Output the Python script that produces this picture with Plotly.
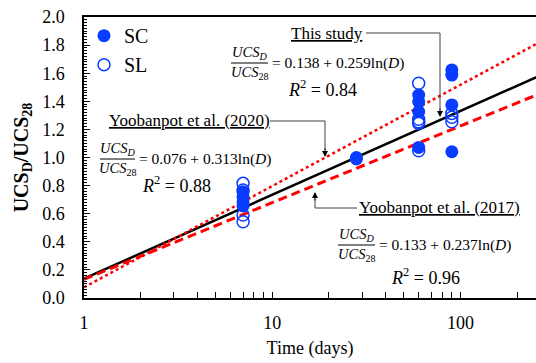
import plotly.graph_objects as go
import numpy as np

# ---------------- data ----------------
sc_days = [7, 7, 7, 7, 28, 28, 60, 60, 60, 60, 90, 90, 90, 90]
sc_vals = [0.757, 0.721, 0.685, 0.655, 1.00, 0.99, 1.445, 1.397, 1.326, 1.072, 1.623, 1.587, 1.374, 1.041]
sl_days = [7, 7, 7, 7, 60, 60, 60, 60, 60, 90, 90, 90]
sl_vals = [0.816, 0.769, 0.591, 0.543, 1.528, 1.272, 1.255, 1.243, 1.048, 1.314, 1.286, 1.255]

# fitted relations printed on the chart: a + b ln(D)
fit_names = ["This study", "Yoobanpot et al. (2020)", "Yoobanpot et al. (2017)"]
fit_a = [0.138, 0.076, 0.133]
fit_b = [0.259, 0.313, 0.237]
fit_r2 = [0.84, 0.88, 0.96]
fit_days = [1, 260]

y_ticks = [0.0, 0.2, 0.4, 0.6, 0.8, 1.0, 1.2, 1.4, 1.6, 1.8, 2.0]
x_ticks = [1, 10, 100]
x_minor = [2, 3, 4, 5, 6, 7, 8, 9, 20, 30, 40, 50, 60, 70, 80, 90, 200]

# ---------------- layout constants ----------------
W, H = 536, 363
L, T, R, B = 84, 17, 536, 298          # plot area in window pixels
SERIF = "Liberation Serif, Times New Roman, serif"
BLUE = "#0a3cff"
RED = "#ff0000"


def px(x):
    return (x - L) / (R - L)


def py(y):
    return (B - y) / (B - T)


fig = go.Figure()

styles = [dict(color="black", width=2.5, dash="solid"),
          dict(color=RED, width=2.5, dash="dot"),
          dict(color=RED, width=3, dash="9px,5px")]
for name, a, b, st in zip(fit_names, fit_a, fit_b, styles):
    d = np.array(fit_days, dtype=float)
    fig.add_trace(go.Scatter(x=d, y=a + b * np.log(d), mode="lines", line=st,
                             showlegend=False, name=name, hoverinfo="skip"))

fig.add_trace(go.Scatter(x=sc_days, y=sc_vals, mode="markers", name="SC",
                         marker=dict(symbol="circle", size=13, color=BLUE,
                                     line=dict(width=0))))
fig.add_trace(go.Scatter(x=sl_days, y=sl_vals, mode="markers", name="SL",
                         marker=dict(symbol="circle-open", size=12, color=BLUE,
                                     line=dict(width=1.5, color=BLUE))))

annotations = []
shapes = []


def text(x, y, s, size=15, xanchor="center", family=SERIF, under=False):
    annotations.append(dict(x=px(x), y=py(y), xref="paper", yref="paper", text=s,
                            showarrow=False, xanchor=xanchor, yanchor="middle",
                            font=dict(family=family, size=size, color="black",
                                      lineposition="under" if under else "none")))


def equation(xb0, xb1, yb, rhs, r2x, r2y, r2):
    xm = (xb0 + xb1) / 2
    text(xm, yb - 10, "<i>UCS</i><sub><i>D</i></sub>", size=14.5)
    text(xm, yb + 10, "<i>UCS</i><sub>28</sub>", size=14.5)
    shapes.append(dict(type="line", xref="paper", yref="paper", x0=px(xb0), x1=px(xb1),
                       y0=py(yb), y1=py(yb), line=dict(color="black", width=1)))
    text(xb1 + 2, yb, rhs, size=15.5, xanchor="left")
    text(r2x, r2y, "<i>R</i><sup>2</sup> = " + r2, size=18, xanchor="left")


def leader(points, tip, up=False):
    path = "M " + " L ".join(f"{px(x)},{py(y)}" for x, y in points)
    shapes.append(dict(type="path", xref="paper", yref="paper", path=path,
                       line=dict(color="#404040", width=1)))
    annotations.append(dict(x=px(tip[0]), y=py(tip[1]), xref="paper", yref="paper",
                            text="", showarrow=True, arrowhead=2, arrowsize=1.2,
                            arrowwidth=1, arrowcolor="black",
                            ax=0, ay=(10 if up else -10)))


# This study
text(327, 33, fit_names[0], size=17, under=True)
leader([(366, 33), (440, 33), (440, 110)], (440, 117))
equation(231, 268, 63, f"= {fit_a[0]:.3f} + {fit_b[0]:.3f}ln(<i>D</i>)", 286, 89, f"{fit_r2[0]:.2f}")

# 2020
text(189, 120, fit_names[1], size=17, under=True)
leader([(270, 121), (325, 121), (325, 150)], (325, 157))
equation(100, 135, 159, f"= {fit_a[1]:.3f} + {fit_b[1]:.3f}ln(<i>D</i>)", 140, 184, f"{fit_r2[1]:.2f}")

# 2017
text(439, 208, fit_names[2], size=17, under=True)
leader([(357, 208), (315, 208), (315, 199)], (315, 192), up=True)
equation(338, 375, 245, f"= {fit_a[2]:.3f} + {fit_b[2]:.3f}ln(<i>D</i>)", 389, 276, f"{fit_r2[2]:.2f}")

fig.update_layout(
    width=W, height=H,
    margin=dict(l=L, r=W - R, t=T, b=H - B, autoexpand=False),
    paper_bgcolor="white", plot_bgcolor="white",
    font=dict(family=SERIF, size=18, color="black"),
    showlegend=True,
    legend=dict(x=0.0, y=1.003, xanchor="left", yanchor="top",
                font=dict(family=SERIF, size=20, color="black"),
                bgcolor="rgba(0,0,0,0)", itemwidth=30, tracegroupgap=0),
    annotations=annotations,
    shapes=shapes,
)

fig.update_xaxes(type="log", range=[0, np.log10(252)], automargin=False,
                 tickvals=x_ticks, ticktext=[str(v) for v in x_ticks],
                 ticks="inside", ticklen=6, tickwidth=1, tickcolor="black",
                 showline=True, linecolor="black", linewidth=1.5, mirror=True,
                 showgrid=False, zeroline=False, ticklabelstandoff=8,
                 ticklabeloverflow="allow",
                 minor=dict(tickvals=x_minor, ticks="inside", ticklen=6,
                            tickwidth=1, tickcolor="black", showgrid=False),
                 title=dict(text="Time (days)", font=dict(family=SERIF, size=18),
                            standoff=9),
                 tickfont=dict(family=SERIF, size=18))

fig.update_yaxes(range=[0, 2.0], automargin=False,
                 tickvals=y_ticks, ticktext=[f"{v:.1f}" for v in y_ticks],
                 ticks="inside", ticklen=6, tickwidth=1, tickcolor="black",
                 showline=True, linecolor="black", linewidth=1.5,
                 showgrid=False, zeroline=False, ticklabelstandoff=14,
                 ticklabeloverflow="allow",
                 minor=dict(dtick=0.02, ticks="inside", ticklen=3, tickwidth=1,
                            tickcolor="black", showgrid=False),
                 title=dict(text="<b>UCS<sub>D</sub>/UCS<sub>28</sub></b>",
                            font=dict(family=SERIF, size=20), standoff=8),
                 tickfont=dict(family=SERIF, size=18))

# remove the browser's default 8px page margin so the figure fills the window
fig.write_html("out.html",
               config={"displayModeBar": False},
               post_script="document.body.style.margin='0px';"
                           "document.body.style.overflow='hidden';")
